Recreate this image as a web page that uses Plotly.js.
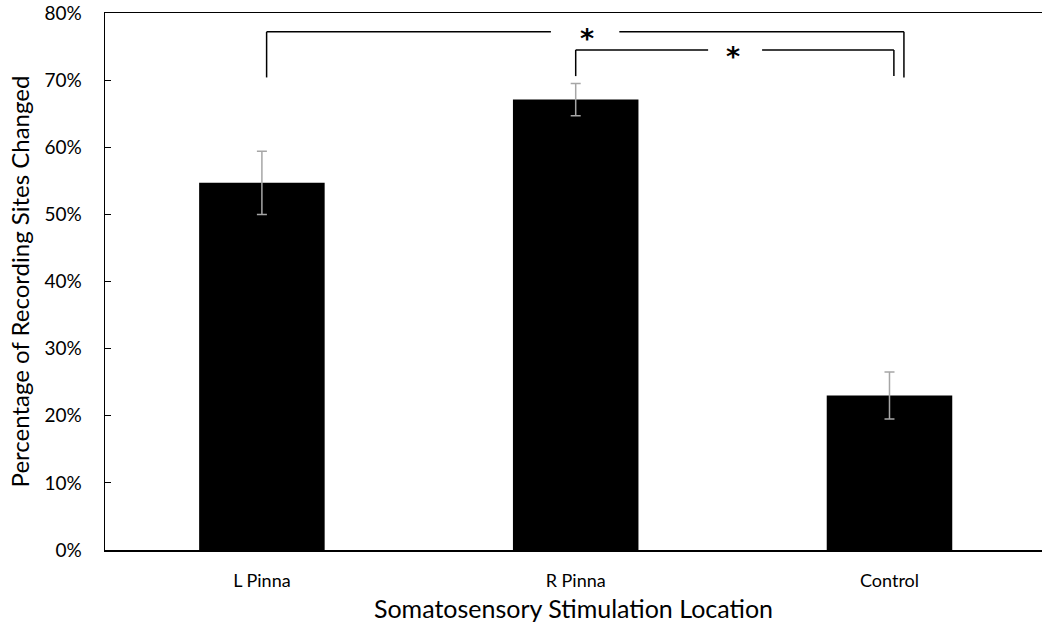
<!DOCTYPE html>
<html>
<head>
<meta charset="utf-8">
<script src="https://cdn.plot.ly/plotly-3.0.1.min.js"></script>
<style>html,body{margin:0;padding:0;background:#fff;}#chart{width:1042px;height:633px;}</style>
</head>
<body>
<div id="chart"></div>
<script>
// Share of recording sites changed by stimulation location
const categories = ["L Pinna", "R Pinna", "Control"];
const percentChanged = [0.547, 0.671, 0.230];
const standardError = [0.047, 0.024, 0.035];
const yTickValues = [0, 0.1, 0.2, 0.3, 0.4, 0.5, 0.6, 0.7, 0.8];

// Significance brackets between bar pairs
const comparisons = [
  { from: 0, to: 2, level: 0.772, foot: 0.704, label: "*" },
  { from: 1, to: 2, level: 0.745, foot: 0.706, label: "*" }
];

const font = "Lato, 'Open Sans', sans-serif";
const starFont = { family: "'DejaVu Sans', sans-serif", size: 27, color: "#000" };

const trace = {
  type: "bar",
  x: [0, 1, 2],
  y: percentChanged,
  width: 0.4,
  marker: { color: "#000000", line: { width: 0 } },
  error_y: {
    type: "data",
    array: standardError,
    visible: true,
    color: "#a6a6a6",
    thickness: 1.5,
    width: 5
  },
  hoverinfo: "skip"
};

const shapes = [];
const annotations = [];
const line = { color: "#000", width: 1.5 };

// Outer bracket (L Pinna vs Control), with a gap around the star
const outer = comparisons[0];
const oL = outer.from + 0.015, oR = outer.to + 0.046;
shapes.push({ type: "line", xref: "x", yref: "y", x0: oL, x1: oL, y0: outer.foot, y1: outer.level, line });
shapes.push({ type: "line", xref: "x", yref: "y", x0: oL, x1: 0.921, y0: outer.level, y1: outer.level, line });
shapes.push({ type: "line", xref: "x", yref: "y", x0: 1.139, x1: oR, y0: outer.level, y1: outer.level, line });
shapes.push({ type: "line", xref: "x", yref: "y", x0: oR, x1: oR, y0: outer.level, y1: outer.foot, line });
annotations.push({ x: 1.036, y: outer.level, xref: "x", yref: "y", text: "<b>" + outer.label + "</b>", showarrow: false,
  font: starFont, yanchor: "middle", yshift: -7 });

// Inner bracket (R Pinna vs Control)
const inner = comparisons[1];
const iL = inner.from, iR = inner.to + 0.014;
shapes.push({ type: "line", xref: "x", yref: "y", x0: iL, x1: iL, y0: inner.foot, y1: inner.level, line });
shapes.push({ type: "line", xref: "x", yref: "y", x0: iL, x1: 1.422, y0: inner.level, y1: inner.level, line });
shapes.push({ type: "line", xref: "x", yref: "y", x0: 1.594, x1: iR, y0: inner.level, y1: inner.level, line });
shapes.push({ type: "line", xref: "x", yref: "y", x0: iR, x1: iR, y0: inner.level, y1: inner.foot, line });
annotations.push({ x: 1.5016, y: inner.level, xref: "x", yref: "y", text: "<b>" + inner.label + "</b>", showarrow: false,
  font: starFont, yanchor: "middle", yshift: -7 });

const layout = {
  width: 1042,
  height: 633,
  margin: { l: 105, r: 0, t: 13, b: 83 },
  paper_bgcolor: "#fff",
  plot_bgcolor: "#fff",
  showlegend: false,
  font: { family: font, color: "#000" },
  xaxis: {
    range: [-0.5, 2.486],
    tickmode: "array",
    tickvals: [0, 1, 2],
    ticktext: categories,
    showgrid: false,
    zeroline: false,
    showline: true,
    mirror: true,
    linecolor: "#000",
    linewidth: 1.5,
    ticks: "",
    ticklabelstandoff: 14,
    tickfont: { family: font, size: 18, color: "#000" },
    title: { text: "Somatosensory Stimulation Location", font: { family: font, size: 25, color: "#000" }, standoff: 10 },
    fixedrange: true
  },
  yaxis: {
    range: [0, 0.8],
    tickmode: "array",
    tickvals: yTickValues,
    tickformat: ".0%",
    showgrid: false,
    zeroline: false,
    showline: true,
    linecolor: "#000",
    linewidth: 1.5,
    ticks: "inside",
    ticklen: 6,
    tickwidth: 1,
    tickcolor: "#000",
    ticklabelstandoff: 18,
    tickfont: { family: font, size: 19, color: "#000" },
    title: { text: "Percentage of Recording Sites Changed", font: { family: font, size: 24, color: "#000" }, standoff: 8 },
    fixedrange: true
  },
  shapes,
  annotations
};

Plotly.newPlot("chart", [trace], layout, { displayModeBar: false, staticPlot: true });
</script>
</body>
</html>
